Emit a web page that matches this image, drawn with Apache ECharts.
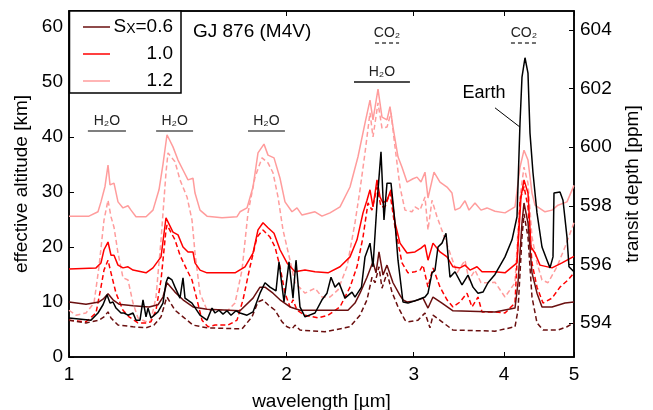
<!DOCTYPE html>
<html>
<head>
<meta charset="utf-8">
<script src="https://cdn.jsdelivr.net/npm/echarts@6/dist/echarts.min.js"></script>
<style>
html,body{margin:0;padding:0;background:#fff;}
#c{width:653px;height:410px;}
</style>
</head>
<body>
<div id="c"></div>
<script>
// ---- data: [wavelength (µm), effective altitude (km)] ----
var earth = [[1.000,7.1],[1.0726,6.7],[1.0968,8],[1.1145,9.5],[1.1288,11.3],[1.1396,9.8],[1.1505,10],[1.1616,8.9],[1.1803,8],[1.1916,8],[1.2069,7.6],[1.2263,8],[1.2380,6.7],[1.2539,6.7],[1.2660,10.4],[1.2782,7.3],[1.2863,8.9],[1.2986,7.1],[1.3280,8.2],[1.3492,9.8],[1.3622,13.5],[1.3709,14.5],[1.3885,14],[1.4019,12.7],[1.4244,10.7],[1.4381,14.4],[1.4473,10.7],[1.4799,9.8],[1.5182,7.6],[1.5525,6.7],[1.5774,8.9],[1.5925,8],[1.6129,8.5],[1.6336,7.8],[1.6546,8.4],[1.6758,7.6],[1.7028,8.4],[1.7246,8],[1.7635,7.6],[1.7976,8.2],[1.8381,11.6],[1.8676,13.5],[1.8976,12.7],[1.9343,12],[1.9529,17.3],[1.9842,10],[2.0161,17.3],[2.0419,10.7],[2.0616,17.6],[2.0880,9.1],[2.1215,7.3],[2.1902,8],[2.2396,10.4],[2.2756,11.6],[2.3048,14.5],[2.3344,12.7],[2.3643,13.5],[2.4100,10.7],[2.4644,11.8],[2.4880,10.9],[2.5400,12.7],[2.5686,18.2],[2.6098,20.7],[2.6349,16.4],[2.6688,28],[2.7029,37.3],[2.7288,24.9],[2.7551,31.6],[2.7905,31.6],[2.8263,24.4],[2.8534,17.6],[2.8992,10],[2.9458,9.8],[3.0412,10.4],[3.1098,10.9],[3.1397,11.6],[3.1800,15.3],[3.2105,15.8],[3.2413,20],[3.2830,20.7],[3.3251,22.5],[3.3677,14.5],[3.4218,15.5],[3.4991,13.1],[3.5665,14.9],[3.6238,12.7],[3.6820,11.6],[3.7412,11.8],[3.8012,13.5],[3.8870,15],[4.0129,18.2],[4.1035,21.3],[4.1694,25.5],[4.2094,42.5],[4.2363,50.9],[4.2770,54.4],[4.3180,51.6],[4.3457,40.7],[4.3874,33.5],[4.4438,26.2],[4.5151,20],[4.5877,17.6],[4.6317,16.2],[4.6762,18.2],[4.6911,29.8],[4.7817,30],[4.8276,28.5],[4.8896,21.8],[4.9207,16.4],[5.000,15.5]];

var s06Solid = [[1.000,10],[1.0557,9.6],[1.1003,10],[1.1145,10.5],[1.1324,11.5],[1.1505,10.4],[1.1727,9.6],[1.2263,9.3],[1.2904,9.1],[1.3280,9.5],[1.3492,10.9],[1.3666,13.5],[1.4019,11.8],[1.4381,10.4],[1.4846,9.1],[1.5525,8.7],[1.7246,8.4],[1.7976,10.7],[1.8381,12.7],[1.8676,12.7],[1.9158,11.6],[1.9591,10.4],[2.0225,9.1],[2.0880,8.5],[2.4331,8.5],[2.4880,9.8],[2.5280,11.6],[2.5850,14.5],[2.6349,17.3],[2.6603,15.3],[2.6857,19.1],[2.7202,14.9],[2.7551,16.7],[2.8083,13.5],[2.8717,11.2],[2.8992,10.4],[2.9365,10],[3.0123,10.2],[3.0901,10.7],[3.1397,8.9],[3.1901,10.9],[3.2830,9.8],[3.4000,8.4],[3.8870,8.2],[4.1429,8.9],[4.1827,13.5],[4.2363,24.4],[4.2634,28],[4.3180,24.4],[4.3735,15.3],[4.4438,11.6],[4.5151,9.1],[4.6613,9.1],[4.8585,9.8],[5.000,10]];

var s06Dashed = [[1.000,6.7],[1.0557,6.2],[1.1003,6.7],[1.1180,7.3],[1.1324,8.2],[1.1432,7.1],[1.1690,5.8],[1.2263,5.5],[1.2782,5.3],[1.3111,5.8],[1.3408,7.3],[1.3622,10.4],[1.3666,10.9],[1.4019,8.5],[1.4381,7.3],[1.4846,5.8],[1.5525,5.3],[1.7356,5.1],[1.7919,7.3],[1.8264,10],[1.8557,10.4],[1.8855,9.5],[1.9281,8.5],[1.9716,6.4],[2.0032,5.5],[2.0354,5.1],[2.0550,5.8],[2.0880,4.9],[2.2611,4.6],[2.4100,5.3],[2.4487,5.5],[2.5280,7.6],[2.5850,10.4],[2.6265,14.5],[2.6518,13.5],[2.6857,16.4],[2.7115,12.5],[2.7551,15.3],[2.7994,11.8],[2.8534,9.1],[2.9178,6.7],[2.9458,6.4],[3.0412,6.7],[3.1098,8],[3.1598,5.3],[3.1901,7.6],[3.2830,6.4],[3.4000,4.9],[3.8870,4.7],[4.1429,5.5],[4.1827,8.5],[4.2363,21.8],[4.2634,26],[4.3180,21.8],[4.3735,10.9],[4.4438,6.2],[4.5295,4.9],[4.7513,4.9],[4.8896,5.5],[5.000,6.2]];

var s10Solid = [[1.000,16],[1.0899,16.2],[1.1073,17.1],[1.1180,19.5],[1.1324,20.9],[1.1432,18.5],[1.1542,18.5],[1.1690,16.7],[1.1878,16.2],[1.2069,16.4],[1.2263,15.8],[1.2782,15.3],[1.3069,16.2],[1.3408,18.2],[1.3622,25.3],[1.3666,25.5],[1.3929,22.7],[1.4154,22.2],[1.4381,20],[1.4612,19.1],[1.4846,19.1],[1.4942,17.1],[1.5182,15.8],[1.5525,15.3],[1.6974,15.3],[1.7523,16.4],[1.7976,18.9],[1.8264,23.1],[1.8557,24.4],[1.8855,23.5],[1.9220,22.5],[1.9591,19.5],[2.0032,17.1],[2.0550,15.5],[2.1215,15.8],[2.1902,15.5],[2.2829,15.3],[2.3719,16.4],[2.4487,18.2],[2.5039,21.3],[2.5523,26.2],[2.5850,28.5],[2.6098,30.4],[2.6349,27.3],[2.6688,32.2],[2.6943,29.1],[2.7202,28],[2.7551,28.5],[2.7905,30.4],[2.8263,24.4],[2.8717,20.7],[2.9365,18.9],[3.0123,19.1],[3.0705,19.8],[3.1098,20.4],[3.1397,17.6],[3.1901,20.7],[3.2621,19.1],[3.3357,18.2],[3.4000,16.4],[3.4768,16.2],[3.5326,16.7],[3.5894,15.8],[3.6703,16.4],[3.7293,15.5],[3.8870,15.5],[4.0129,15.3],[4.1694,17.1],[4.2229,29.1],[4.2634,32.2],[4.3180,29.8],[4.3596,20],[4.4155,18.9],[4.4864,16.7],[4.6613,16.2],[4.8123,17.1],[5.000,18.3]];

var s10Dashed = [[1.000,6.7],[1.0557,6.4],[1.0899,8],[1.1073,12.7],[1.1180,15.8],[1.1324,17.6],[1.1432,15.3],[1.1616,11.6],[1.1878,8.5],[1.2107,7.3],[1.2459,6.2],[1.2782,6.2],[1.2986,6.4],[1.3195,8.5],[1.3408,14],[1.3622,23.1],[1.3666,24],[1.4019,21.3],[1.4244,18.5],[1.4566,15.8],[1.4799,14],[1.5038,10.4],[1.5279,6.7],[1.5574,5.5],[1.5925,5.8],[1.6599,5.8],[1.7083,6.7],[1.7412,10.4],[1.7805,16.4],[1.8207,21.8],[1.8557,23.1],[1.8976,21.8],[1.9281,20],[1.9591,16.4],[1.9905,11.6],[2.0225,9.1],[2.0419,10.4],[2.0682,8.5],[2.1215,7.6],[2.2112,7.1],[2.2829,7.6],[2.3719,9.1],[2.4487,12.7],[2.5039,16.4],[2.5523,21.8],[2.5933,28],[2.6265,26.7],[2.6688,30.9],[2.7029,27.3],[2.7376,27.3],[2.7816,29.8],[2.8263,23.6],[2.8901,17.1],[2.9458,15.3],[3.0123,15.5],[3.0607,15.8],[3.0901,16.7],[3.1397,12.7],[3.1901,16.2],[3.2621,12.7],[3.3357,10.4],[3.4000,9.1],[3.4768,10],[3.5552,11.6],[3.6124,9.1],[3.6820,10.9],[3.7293,8.2],[3.8870,8.2],[4.0129,8],[4.1429,9.8],[4.2094,28.5],[4.2634,31],[4.3180,27.3],[4.3735,17.1],[4.4438,12.7],[4.5295,9.8],[4.6613,10.7],[4.7817,12.7],[4.9051,14],[5.000,15.3]];

var s12Solid = [[1.000,25.6],[1.0658,25.6],[1.0968,26.4],[1.1073,28.2],[1.1216,31],[1.1324,34.9],[1.1396,31.3],[1.1542,31.6],[1.1690,28.2],[1.1878,27.1],[1.2069,27.5],[1.2185,26.7],[1.2380,25.5],[1.2782,25.5],[1.3069,26.7],[1.3322,30.4],[1.3492,35],[1.3666,40.4],[1.3929,38.2],[1.4154,35.8],[1.4381,34],[1.4612,32.2],[1.4846,32.5],[1.4942,29.8],[1.5182,26.7],[1.5525,25.6],[1.6285,25.3],[1.7083,25.5],[1.7246,26.4],[1.7635,27.1],[1.7976,30.9],[1.8264,37.1],[1.8616,38.7],[1.8855,36.7],[1.9220,36.2],[1.9591,32.5],[1.9905,28.2],[2.0354,26.4],[2.0682,27.1],[2.1014,25.8],[2.1902,26.4],[2.2396,25.6],[2.2975,26.2],[2.3719,27.3],[2.4487,30.9],[2.5119,36.4],[2.5686,42.5],[2.6098,46.7],[2.6349,43.1],[2.6773,48.7],[2.7115,43.6],[2.7551,43.1],[2.7816,45.5],[2.8083,41.8],[2.8534,36.4],[2.8901,34.5],[2.9365,31.8],[2.9932,32.4],[3.0316,32.7],[3.0705,31.8],[3.1098,33.6],[3.1397,28.9],[3.2002,33.6],[3.2621,31.8],[3.3357,30.9],[3.3893,29.8],[3.4218,26.7],[3.4768,27.1],[3.5326,28.4],[3.5779,26.7],[3.6470,28],[3.7175,26.7],[3.7892,27.1],[3.8870,26.5],[4.0129,26.2],[4.1429,27.3],[4.2094,34.5],[4.2634,37.6],[4.3180,35.8],[4.3735,29.8],[4.4155,27.6],[4.5585,26.4],[4.6613,26.7],[4.7513,27.6],[4.8896,28.2],[5.000,31.2]];

var s12Dashed = [[1.000,8.5],[1.0226,7.6],[1.0557,8],[1.0829,9.8],[1.1003,16.4],[1.1180,24.9],[1.1324,28.5],[1.1432,25.5],[1.1542,23.6],[1.1690,18.9],[1.1878,14.4],[1.2069,14],[1.2263,9.8],[1.2459,7.1],[1.2782,6.4],[1.2986,6.7],[1.3195,10.9],[1.3408,21.3],[1.3622,33.5],[1.3709,37.1],[1.4019,35.5],[1.4244,32.2],[1.4566,29.1],[1.4799,24.9],[1.4942,18.9],[1.5182,11.6],[1.5525,8.5],[1.5925,8.5],[1.6599,8.5],[1.6974,9.8],[1.7356,15.8],[1.7691,26.2],[1.8091,32.7],[1.8499,36.2],[1.8855,35.3],[1.9158,33.5],[1.9466,29.1],[1.9778,23.1],[2.0225,17.6],[2.0550,13.5],[2.1215,11.6],[2.1902,12.5],[2.2396,10.9],[2.2975,10.9],[2.3568,12.2],[2.4254,16.4],[2.4880,24.4],[2.5280,30.4],[2.5686,37.1],[2.6098,44.4],[2.6349,40],[2.6773,46.2],[2.7115,41.6],[2.7551,41.8],[2.7905,44.4],[2.8263,38.2],[2.8717,30.9],[2.9178,26.7],[2.9837,26.4],[3.0123,27.3],[3.0607,26.7],[3.1098,29.1],[3.1397,23.1],[3.1800,28.5],[3.2310,25.5],[3.2934,22.5],[3.3677,18.9],[3.4437,15.3],[3.5326,17.6],[3.5779,14],[3.6470,15.8],[3.7175,13.5],[3.8012,13.5],[3.8870,13.6],[4.0129,10.9],[4.1429,13.5],[4.2094,29.1],[4.2634,34.5],[4.3180,31.6],[4.3735,21.8],[4.4438,17.1],[4.5151,14],[4.6023,13.5],[4.7362,16.4],[4.8585,20],[5.000,24.4]];

var xTicks = [1, 2, 3, 4, 5];
var ppmTicks = [594, 596, 598, 600, 602, 604];
var legendLabels = ['{n|S}{s|X}{n|=0.6}', '1.0', '1.2'];

// band annotations: [label, from µm, to µm, altitude km]
var h2oBands = [['H₂O', 1.062, 1.199, 41.1], ['H₂O', 1.320, 1.485, 41.1], ['H₂O', 1.769, 1.990, 41.1]];
var h2oBandMain = [['H₂O', 2.480, 2.964, 50.0]];
var co2Bands = [['CO₂', 2.652, 2.863, 57.1], ['CO₂', 4.09, 4.44, 57.1]];
var earthArrow = [[3.887, 45.3], [4.209, 41.8]];
var earthLabel = [3.753, 48.0];

var C06 = '#6a0f0f', C10 = '#ff0000', C12 = '#ff9c9c';
var FONT = 'Liberation Sans';

function band(list, color, type) {
  return list.map(function (b) {
    return [
      { coord: [b[1], b[3]], lineStyle: { color: color, type: type, width: 1.5 },
        label: { show: true, position: 'middle', formatter: b[0], color: '#222', fontSize: 14, fontFamily: FONT, distance: 3 } },
      { coord: [b[2], b[3]] }
    ];
  });
}

function lineSeries(name, data, color, dashed, z) {
  return {
    name: name, type: 'line', data: data, showSymbol: false, symbol: 'none',
    xAxisIndex: 0, yAxisIndex: 0, z: z, animation: false,
    lineStyle: { color: color, width: 1.5, type: dashed ? [5, 3] : 'solid' }
  };
}

var chart = echarts.init(document.getElementById('c'), null, { renderer: 'canvas' });

var axisCommon = {
  axisLine: { show: true, lineStyle: { color: '#000', width: 1.5 } },
  splitLine: { show: false }
};

chart.setOption({
  animation: false,
  backgroundColor: '#fff',
  textStyle: { fontFamily: FONT },
  grid: { left: 69, right: 79, top: 11, bottom: 53, show: true, borderColor: '#000', borderWidth: 1.5,
          containLabel: false, outerBoundsMode: 'none' },
  xAxis: [
    Object.assign({
      type: 'log', min: 1, max: 5, logBase: 10, position: 'bottom',
      name: 'wavelength [µm]', nameLocation: 'middle', nameGap: 35,
      nameTextStyle: { fontSize: 19, color: '#000', fontFamily: FONT },
      axisTick: { inside: true, length: 5, lineStyle: { color: '#000', width: 1 }, customValues: xTicks },
      axisLabel: { color: '#000', fontSize: 19, margin: 8, fontFamily: FONT, customValues: xTicks, formatter: function (v) { return String(Math.round(v)); } }
    }, axisCommon),
    Object.assign({
      type: 'log', min: 1, max: 5, logBase: 10, position: 'top',
      axisTick: { inside: true, length: 5, lineStyle: { color: '#000', width: 1 }, customValues: xTicks },
      axisLabel: { show: false }
    }, axisCommon)
  ],
  yAxis: [
    Object.assign({
      type: 'value', min: 0, max: 62.9, interval: 10, position: 'left',
      name: 'effective altitude [km]', nameLocation: 'middle', nameGap: 37,
      nameTextStyle: { fontSize: 19, color: '#000', fontFamily: FONT },
      axisTick: { inside: true, length: 5, lineStyle: { color: '#000', width: 1 } },
      axisLabel: { color: '#000', fontSize: 19, margin: 6, fontFamily: FONT }
    }, axisCommon),
    Object.assign({
      type: 'value', min: 592.84, max: 604.65, position: 'right',
      name: 'transit depth [ppm]', nameLocation: 'middle', nameGap: 49, nameRotate: 90,
      nameTextStyle: { fontSize: 19, color: '#000', fontFamily: FONT, verticalAlign: 'top' },
      axisTick: { inside: true, length: 5, lineStyle: { color: '#000', width: 1 }, customValues: ppmTicks },
      axisLabel: { color: '#000', fontSize: 19, margin: 6, fontFamily: FONT, customValues: ppmTicks }
    }, axisCommon)
  ],
  series: [
    lineSeries('s12d', s12Dashed, C12, true, 2),
    lineSeries('s12s', s12Solid, C12, false, 2),
    lineSeries('s10d', s10Dashed, C10, true, 3),
    lineSeries('s10s', s10Solid, C10, false, 3),
    lineSeries('s06d', s06Dashed, C06, true, 4),
    lineSeries('s06s', s06Solid, C06, false, 4),
    lineSeries('Earth', earth, '#000', false, 5),
    {
      type: 'line', data: [], xAxisIndex: 0, yAxisIndex: 0, silent: true,
      markLine: {
        silent: true, symbol: 'none', animation: false,
        data: band(h2oBands, '#555', 'solid').concat(band(h2oBandMain, '#111', 'solid')).concat(band(co2Bands, '#444', [4, 3]))
      }
    },
    {
      type: 'line', data: [], xAxisIndex: 0, yAxisIndex: 0, silent: true,
      markLine: {
        silent: true, symbol: ['none', 'arrow'], symbolSize: [0, 8], animation: false,
        label: { show: false },
        data: [[{ coord: earthArrow[0], lineStyle: { color: '#000', width: 1, type: 'solid' } }, { coord: earthArrow[1] }]]
      }
    }
  ],
  graphic: [
    { type: 'rect', shape: { x: 69.5, y: 11, width: 111.5, height: 82 }, style: { fill: '#fff', stroke: '#000', lineWidth: 1.5 }, z: 100 },
    { type: 'line', shape: { x1: 83, y1: 27, x2: 110, y2: 27 }, style: { stroke: C06, lineWidth: 1.5 }, z: 101 },
    { type: 'line', shape: { x1: 83, y1: 54, x2: 110, y2: 54 }, style: { stroke: C10, lineWidth: 1.5 }, z: 101 },
    { type: 'line', shape: { x1: 83, y1: 81, x2: 110, y2: 81 }, style: { stroke: C12, lineWidth: 1.5 }, z: 101 },
    { type: 'text', x: 173, y: 27, z: 101, style: { text: legendLabels[0], align: 'right', verticalAlign: 'middle', fill: '#000',
      rich: { n: { fontSize: 19, fontFamily: FONT, fill: '#000' }, s: { fontSize: 14, fontFamily: FONT, fill: '#000', padding: [4, 0, 0, 0] } } } },
    { type: 'text', x: 173, y: 54, z: 101, style: { text: legendLabels[1], align: 'right', verticalAlign: 'middle', fill: '#000', fontSize: 19, fontFamily: FONT } },
    { type: 'text', x: 173, y: 81, z: 101, style: { text: legendLabels[2], align: 'right', verticalAlign: 'middle', fill: '#000', fontSize: 19, fontFamily: FONT } },
    { type: 'text', x: 193, y: 32, z: 101, style: { text: 'GJ 876 (M4V)', align: 'left', verticalAlign: 'middle', fill: '#000', fontSize: 19, fontFamily: FONT } }
  ]
});

var ep = chart.convertToPixel({ xAxisIndex: 0, yAxisIndex: 0 }, earthLabel);
chart.setOption({
  graphic: [{ id: 'earthText', type: 'text', x: ep[0], y: ep[1], z: 101,
    style: { text: 'Earth', align: 'center', verticalAlign: 'middle', fill: '#000', fontSize: 18, fontFamily: FONT } }]
});
</script>
</body>
</html>
